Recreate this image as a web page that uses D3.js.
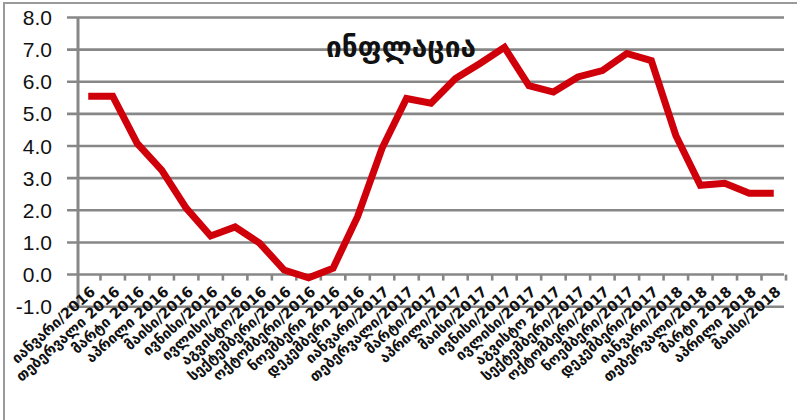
<!DOCTYPE html>
<html>
<head>
<meta charset="utf-8">
<script src="https://cdn.jsdelivr.net/npm/d3@7"></script>
<style>
  html, body { margin: 0; padding: 0; background: #fff; }
  svg { display: block; }
</style>
</head>
<body>
<svg id="chart" width="797" height="420"></svg>
<script>
// month labels, as they stand under the axis
const months = [
  "იანვარი/2016", "თებერვალი 2016", "მარტი 2016", "აპრილი 2016", "მაისი/2016", "ივნისი/2016",
  "ივლისი/2016", "აგვისტო/2016", "სექტემბერი/2016", "ოქტომბერი/2016", "ნოემბერი 2016", "დეკემბერი 2016",
  "იანვარი/2017", "თებერვალი/2017", "მარტი/2017", "აპრილი/2017", "მაისი/2017", "ივნისი/2017",
  "ივლისი/2017", "აგვისტო 2017", "სექტემბერი/2017", "ოქტომბერი/2017", "ნოემბერი/2017", "დეკემბერი/2017",
  "იანვარი/2018", "თებერვალი/2018", "მარტი 2018", "აპრილი 2018", "მაისი/2018"
];
// inflation, %
const inflation = [
  5.55, 5.55, 4.08, 3.25, 2.07, 1.2, 1.48, 0.98, 0.14, -0.1, 0.2, 1.8,
  3.93, 5.48, 5.33, 6.1, 6.57, 7.07, 5.88, 5.68, 6.15, 6.35, 6.88, 6.66,
  4.33, 2.78, 2.84, 2.53, 2.53
];
const yTicks = [-1, 0, 1, 2, 3, 4, 5, 6, 7, 8];
const title = "ინფლაცია";

const svg = d3.select("#chart");
const grey = "#878787";

// outer frame (left / top only visible)
svg.append("rect")
  .attr("x", 4).attr("y", 3)
  .attr("width", 820).attr("height", 440)
  .attr("fill", "none").attr("stroke", "#9a9a9a").attr("stroke-width", 2);

const x = d3.scaleBand().domain(months).range([76, 786]);
const y = d3.scaleLinear().domain([-1, 8]).range([306.7, 17.5]);

// horizontal gridlines + little ticks left of the axis
svg.append("g").selectAll("line")
  .data(yTicks)
  .enter().append("line")
    .attr("x1", 67).attr("x2", 784)
    .attr("y1", d => y(d)).attr("y2", d => y(d))
    .attr("stroke", grey).attr("stroke-width", 2.6);

// y axis line
svg.append("line")
  .attr("x1", 78).attr("x2", 78)
  .attr("y1", y(8)).attr("y2", y(-1))
  .attr("stroke", grey).attr("stroke-width", 3);

// tick marks on the zero line
svg.append("g").selectAll("line")
  .data(months)
  .enter().append("line")
    .attr("x1", d => x(d) + x.bandwidth()).attr("x2", d => x(d) + x.bandwidth())
    .attr("y1", y(0)).attr("y2", y(0) + 6)
    .attr("stroke", grey).attr("stroke-width", 2.6);

// y labels
svg.append("g").selectAll("text")
  .data(yTicks)
  .enter().append("text")
    .attr("x", 52)
    .attr("y", d => y(d))
    .attr("dy", "0.36em")
    .attr("text-anchor", "end")
    .style("font-family", "'Liberation Sans', Arial, sans-serif")
    .style("font-size", "21px")
    .attr("fill", "#111")
    .text(d => d.toFixed(1));

// x labels, rotated
svg.append("g").selectAll("text")
  .data(months)
  .enter().append("text")
    .attr("transform", d => "translate(" + (x(d) + x.bandwidth() / 2 + 8) + "," + 293 + ") rotate(-42)")
    .attr("text-anchor", "end")
    .style("font-family", "'DejaVu Sans', sans-serif")
    .style("font-size", "14.5px")
    .style("font-weight", "bold")
    .attr("fill", "#111")
    .text(d => d);

// the line
const line = d3.line()
  .x((d, i) => x(months[i]) + x.bandwidth() / 2)
  .y(d => y(d));

svg.append("path")
  .datum(inflation)
  .attr("d", line)
  .attr("fill", "none")
  .attr("stroke", "#d0000a")
  .attr("stroke-width", 7)
  .attr("stroke-linejoin", "miter");

// title
svg.append("text")
  .attr("x", 401).attr("y", 57)
  .attr("text-anchor", "middle")
  .style("font-family", "'DejaVu Sans', sans-serif")
  .style("font-size", "28px")
  .style("font-weight", "bold")
  .attr("fill", "#111")
  .text(title);
</script>
</body>
</html>
